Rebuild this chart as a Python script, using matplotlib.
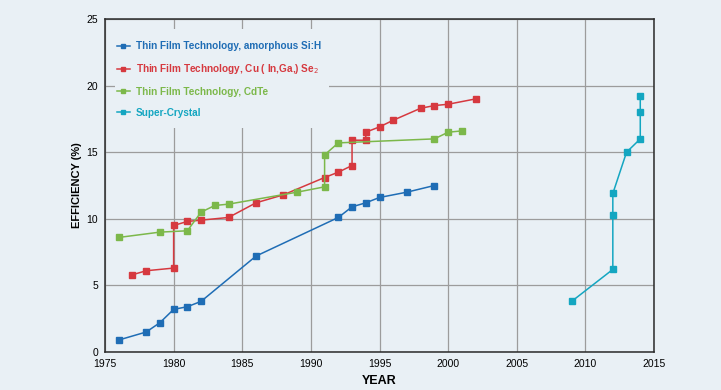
import matplotlib
matplotlib.use("Agg")
import matplotlib.pyplot as plt
from matplotlib.patches import Rectangle

plt.rcParams['font.family'] = ['Liberation Sans', 'DejaVu Sans']

# Daten
si_jahr = [1976, 1978, 1979, 1980, 1981, 1982, 1986, 1992, 1993, 1994, 1995, 1997, 1999]
si_eff = [0.9, 1.5, 2.2, 3.2, 3.4, 3.8, 7.2, 10.1, 10.9, 11.2, 11.6, 12.0, 12.5]

cigs_jahr = [1977, 1978, 1980, 1980, 1981, 1982, 1984, 1986, 1988, 1991, 1992, 1993, 1993,
             1994, 1994, 1995, 1996, 1998, 1999, 2000, 2002]
cigs_eff = [5.8, 6.1, 6.3, 9.5, 9.8, 9.9, 10.1, 11.2, 11.8, 13.1, 13.5, 14.0, 15.9,
            15.9, 16.5, 16.9, 17.4, 18.3, 18.5, 18.6, 19.0]

cdte_jahr = [1976, 1979, 1981, 1982, 1983, 1984, 1989, 1991, 1991, 1992, 1999, 2000, 2001]
cdte_eff = [8.6, 9.0, 9.1, 10.5, 11.0, 11.1, 12.0, 12.4, 14.8, 15.7, 16.0, 16.5, 16.6]

sc_jahr = [2009, 2012, 2012, 2012, 2013, 2014, 2014, 2014]
sc_eff = [3.8, 6.2, 10.3, 11.9, 15.0, 16.0, 18.0, 19.2]

labels = ['Thin Film Technology, amorphous Si:H',
          'Thin Film Technology, Cu ( In,Ga,) Se$_{2}$',
          'Thin Film Technology, CdTe',
          'Super-Crystal']
farben = ['#1f6db5', '#d6393f', '#7cb84a', '#14a6c1']

hg = '#e9f0f5'

fig = plt.figure(figsize=(7.21, 3.90), dpi=100, facecolor=hg)
ax = fig.add_axes([105 / 721, 38 / 390, 549 / 721, 333 / 390], facecolor=hg)

reihen = [(si_jahr, si_eff), (cigs_jahr, cigs_eff), (cdte_jahr, cdte_eff), (sc_jahr, sc_eff)]
for (x, y), lab, f in zip(reihen, labels, farben):
    ax.plot(x, y, color=f, lw=1.1, marker='s', markersize=4.2, label=lab, zorder=3)

ax.set_xlim(1975, 2015)
ax.set_ylim(0, 25)
ax.set_xticks(range(1975, 2016, 5))
ax.set_yticks(range(0, 26, 5))
ax.set_axisbelow(True)
ax.grid(True, color='#9c9c9c', lw=0.9)
ax.tick_params(length=0, labelsize=7.5, pad=5)
for s in ax.spines.values():
    s.set_color('#2a2a2a')
    s.set_linewidth(1.1)

# Hintergrund der Legende verdeckt das Gitter
ax.add_patch(Rectangle((0.018, 0.673), 0.39, 0.297, transform=ax.transAxes,
                       facecolor=hg, edgecolor='none', zorder=1))

leg = ax.legend(loc='upper left', bbox_to_anchor=(0.021, 0.933), frameon=False,
                prop={'size': 7.2, 'weight': 'bold'}, handlelength=1.3,
                handletextpad=0.6, labelspacing=1.08, borderaxespad=0,
                borderpad=0, markerscale=0.7)
for t, f in zip(leg.get_texts(), farben):
    t.set_color(f)

ax.set_xlabel('YEAR', fontsize=9, fontweight='bold', labelpad=4)
ax.set_ylabel('EFFICIENCY (%)', fontsize=8, fontweight='bold', labelpad=3)

plt.savefig('out.png', dpi=100, facecolor=hg)
